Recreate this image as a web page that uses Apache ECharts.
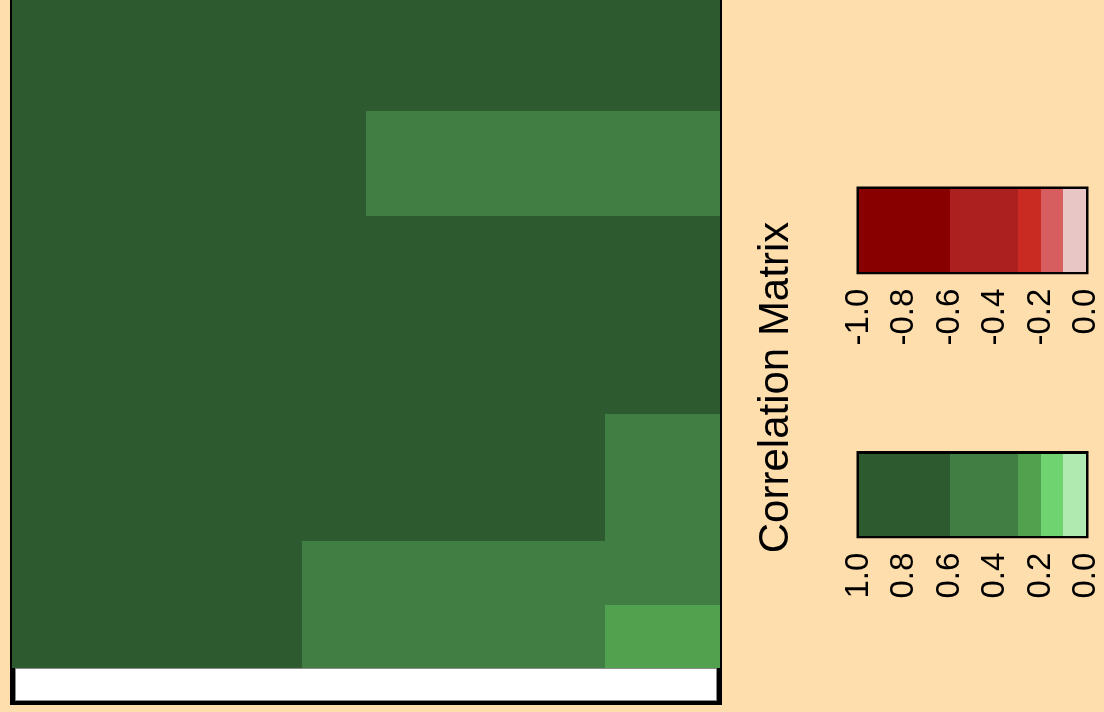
<!DOCTYPE html>
<html>
<head>
<meta charset="utf-8">
<script src="https://cdn.jsdelivr.net/npm/echarts@6/dist/echarts.min.js"></script>
<style>
  html, body { margin: 0; padding: 0; background: #FFDEAD; }
  #chart { width: 1104px; height: 712px; }
</style>
</head>
<body>
<div id="chart"></div>
<script>
// ---- data ----
// column / row boundaries of the visible matrix cells (abstract panel units 0..100)
const colEdges = [0, 41, 50, 83.8, 100];
const rowEdges = [0, 9.4, 19, 38, 67.7, 83.4, 100]; // bottom -> top
// correlation values, rows listed bottom -> top, columns left -> right
const cellValues = [
  [0.88, 0.52, 0.48, 0.26],
  [0.91, 0.47, 0.55, 0.44],
  [0.85, 0.93, 0.79, 0.51],
  [0.95, 0.87, 0.90, 0.83],
  [0.82, 0.76, 0.50, 0.46],
  [1.00, 0.92, 0.86, 0.89]
];
// colour breaks (absolute correlation) and palettes
const breaks = [0, 0.1, 0.2, 0.3, 0.6, 1.0];
const posColors = ['#B0EAB0', '#6FD36F', '#52A14F', '#417E43', '#2D5A2E'];
const negColors = ['#E9C6C6', '#D75E5E', '#C92A22', '#AD2020', '#880000'];
const titleText = 'Correlation Matrix';

const FONT = "'Liberation Sans', Arial, Helvetica, sans-serif";

function colorFor(v) {
  const a = Math.abs(v);
  let idx = breaks.length - 2;
  for (let i = 0; i < breaks.length - 1; i++) {
    if (a <= breaks[i + 1]) { idx = i; break; }
  }
  return v < 0 ? negColors[idx] : posColors[idx];
}

// matrix cells
const cellData = [];
for (let r = 0; r < cellValues.length; r++) {
  for (let c = 0; c < cellValues[r].length; c++) {
    cellData.push([colEdges[c], colEdges[c + 1], rowEdges[r], rowEdges[r + 1], cellValues[r][c]]);
  }
}
// colour-bar segments
const negSegs = [], posSegs = [];
for (let i = 0; i < breaks.length - 1; i++) {
  negSegs.push([-breaks[i + 1], -breaks[i], 0, 1, -(breaks[i] + breaks[i + 1]) / 2]);
  posSegs.push([breaks[i], breaks[i + 1], 0, 1, (breaks[i] + breaks[i + 1]) / 2]);
}

function rectItem(params, api) {
  const p0 = api.coord([api.value(0), api.value(3)]);
  const p1 = api.coord([api.value(1), api.value(2)]);
  const x0 = Math.round(Math.min(p0[0], p1[0]));
  const x1 = Math.round(Math.max(p0[0], p1[0]));
  const y0 = Math.round(Math.min(p0[1], p1[1]));
  const y1 = Math.round(Math.max(p0[1], p1[1]));
  return {
    type: 'rect',
    shape: { x: x0, y: y0, width: x1 - x0, height: y1 - y0 },
    style: { fill: colorFor(api.value(4)) }
  };
}

const chart = echarts.init(document.getElementById('chart'), null, { renderer: 'canvas' });

const barAxisLabel = {
  show: true,
  rotate: 90,
  margin: 17,
  fontSize: 33,
  fontFamily: FONT,
  color: '#000',
  formatter: v => Number(v).toFixed(1)
};

chart.setOption({
  backgroundColor: '#FFDEAD',
  animation: false,
  grid: [
    { left: 12, top: 0, width: 708, height: 668, show: false },
    { left: 859, top: 189, width: 227, height: 82.7, show: true, borderColor: '#000', borderWidth: 5, backgroundColor: 'transparent' },
    { left: 859, top: 453.5, width: 227, height: 82.2, show: true, borderColor: '#000', borderWidth: 5, backgroundColor: 'transparent' }
  ],
  xAxis: [
    { gridIndex: 0, type: 'value', min: 0, max: 100, show: false },
    { gridIndex: 1, type: 'value', min: -1, max: 0, interval: 0.2, position: 'bottom',
      axisLine: { show: false }, axisTick: { show: false }, splitLine: { show: false }, axisLabel: barAxisLabel },
    { gridIndex: 2, type: 'value', min: 0, max: 1, interval: 0.2, inverse: true, position: 'bottom',
      axisLine: { show: false }, axisTick: { show: false }, splitLine: { show: false }, axisLabel: barAxisLabel }
  ],
  yAxis: [
    { gridIndex: 0, type: 'value', min: 0, max: 100, show: false },
    { gridIndex: 1, type: 'value', min: 0, max: 1, show: false },
    { gridIndex: 2, type: 'value', min: 0, max: 1, show: false }
  ],
  graphic: [
    { type: 'rect', z: 0, silent: true, shape: { x: 10, y: -10, width: 712, height: 715 }, style: { fill: '#000' } },
    { type: 'rect', z: 5, silent: true, shape: { x: 15.5, y: 668.5, width: 701, height: 32 }, style: { fill: '#fff', stroke: '#8c8c8c', lineWidth: 1 } },
    { type: 'text', z: 5, silent: true, x: 776, y: 387.5, rotation: Math.PI / 2,
      style: { text: titleText, fontSize: 42, fontFamily: FONT, fill: '#000', align: 'center', verticalAlign: 'middle' } }
  ],
  series: [
    { type: 'custom', xAxisIndex: 0, yAxisIndex: 0, renderItem: rectItem, data: cellData,
      encode: { x: [0, 1], y: [2, 3] }, silent: true, z: 2 },
    { type: 'custom', xAxisIndex: 1, yAxisIndex: 1, renderItem: rectItem, data: negSegs,
      encode: { x: [0, 1], y: [2, 3] }, silent: true, z: 2 },
    { type: 'custom', xAxisIndex: 2, yAxisIndex: 2, renderItem: rectItem, data: posSegs,
      encode: { x: [0, 1], y: [2, 3] }, silent: true, z: 2 }
  ]
});
</script>
</body>
</html>
